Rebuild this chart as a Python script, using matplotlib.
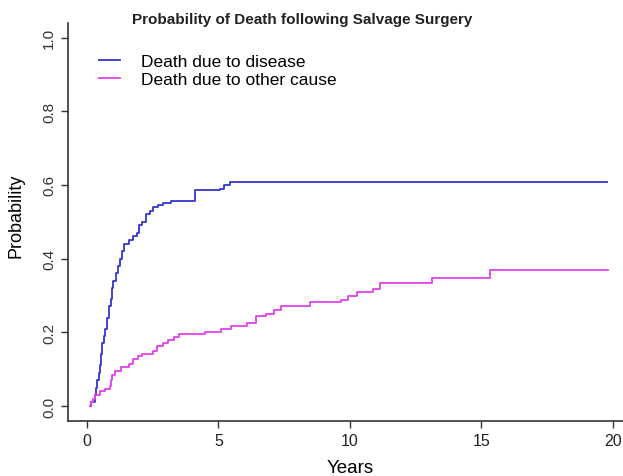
import matplotlib
matplotlib.use("Agg")
import matplotlib.pyplot as plt

plt.rcParams['font.family'] = ['Liberation Sans', 'DejaVu Sans']

# cumulative incidence, death due to disease (step times in years, probability)
disease_years = [0.1, 0.15, 0.3, 0.35, 0.4, 0.45, 0.5, 0.55, 0.58, 0.65, 0.7, 0.78,
                 0.83, 0.9, 0.95, 1.0, 1.1, 1.18, 1.25, 1.32, 1.4, 1.6, 1.75, 1.9,
                 2.0, 2.1, 2.25, 2.4, 2.5, 2.7, 2.9, 3.2, 4.1, 5.05, 5.2, 5.45, 19.8]
disease_prob = [0.0, 0.01, 0.03, 0.05, 0.07, 0.09, 0.11, 0.14, 0.17, 0.19, 0.21, 0.24,
                0.27, 0.29, 0.32, 0.34, 0.36, 0.38, 0.40, 0.42, 0.44, 0.45, 0.46, 0.47,
                0.49, 0.50, 0.52, 0.53, 0.54, 0.545, 0.55, 0.557, 0.585, 0.59, 0.60, 0.607, 0.607]

# cumulative incidence, death due to other cause
other_years = [0.12, 0.15, 0.25, 0.32, 0.5, 0.7, 0.87, 0.92, 0.97, 1.05, 1.3, 1.6,
               1.75, 1.95, 2.1, 2.5, 2.65, 2.9, 3.1, 3.3, 3.5, 4.5, 5.1, 5.5, 6.1,
               6.45, 6.8, 7.1, 7.4, 8.48, 9.65, 9.94, 10.26, 10.9, 11.14, 13.12, 15.33, 19.83]
other_prob = [0.0, 0.01, 0.02, 0.03, 0.04, 0.047, 0.055, 0.07, 0.085, 0.095, 0.105, 0.115,
              0.127, 0.135, 0.142, 0.15, 0.162, 0.172, 0.18, 0.188, 0.196, 0.2, 0.21, 0.217, 0.225,
              0.243, 0.25, 0.26, 0.27, 0.281, 0.288, 0.298, 0.309, 0.318, 0.333, 0.347, 0.369, 0.369]

x_ticks = [0, 5, 10, 15, 20]
y_ticks = [0.0, 0.2, 0.4, 0.6, 0.8, 1.0]
y_tick_labels = ["0.0", "0.2", "0.4", "0.6", "0.8", "1.0"]

fig = plt.figure(figsize=(6.23, 4.77), dpi=100)
ax = fig.add_axes([0.1091, 0.1159, 0.8997, 0.8342])

ax.step(disease_years, disease_prob, where='post', color='#3535d0', lw=1.3,
        label='Death due to disease')
ax.step(other_years, other_prob, where='post', color='#e040e8', lw=1.3,
        label='Death due to other cause')

ax.set_xlim(-0.72, 20.6)
ax.set_ylim(-0.04, 1.04)
ax.set_xticks(x_ticks)
ax.set_yticks(y_ticks)
ax.set_yticklabels(y_tick_labels, rotation=90, va='center', color='#444444')

ax.spines['top'].set_visible(False)
ax.spines['right'].set_visible(False)
for s in ['left', 'bottom']:
    ax.spines[s].set_color('#333333')
    ax.spines[s].set_linewidth(1.2)
ax.tick_params(direction='out', length=5, width=1, colors='#333333', labelsize=11)
ax.tick_params(axis='x', labelcolor='#222222', labelsize=11.5)

ax.set_xlabel('Years', fontsize=13.5)
ax.xaxis.set_label_coords(282 / 560.5, -38 / 397.9)
ax.set_ylabel('Probability', fontsize=13)
ax.yaxis.set_label_coords(-43 / 560.5, 206 / 397.9)

fig.text(302 / 623, 1 - 20 / 477, 'Probability of Death following Salvage Surgery',
         ha='center', va='center', fontsize=11, fontweight='bold', color='#222222')

ax.legend(loc='upper left', bbox_to_anchor=(92 / 623, 1 - 47.5 / 477),
          bbox_transform=fig.transFigure, frameon=False, fontsize=12.5,
          handlelength=1.2, handletextpad=1.25, labelspacing=0.2, borderaxespad=0)

fig.savefig('out.png', dpi=100)
